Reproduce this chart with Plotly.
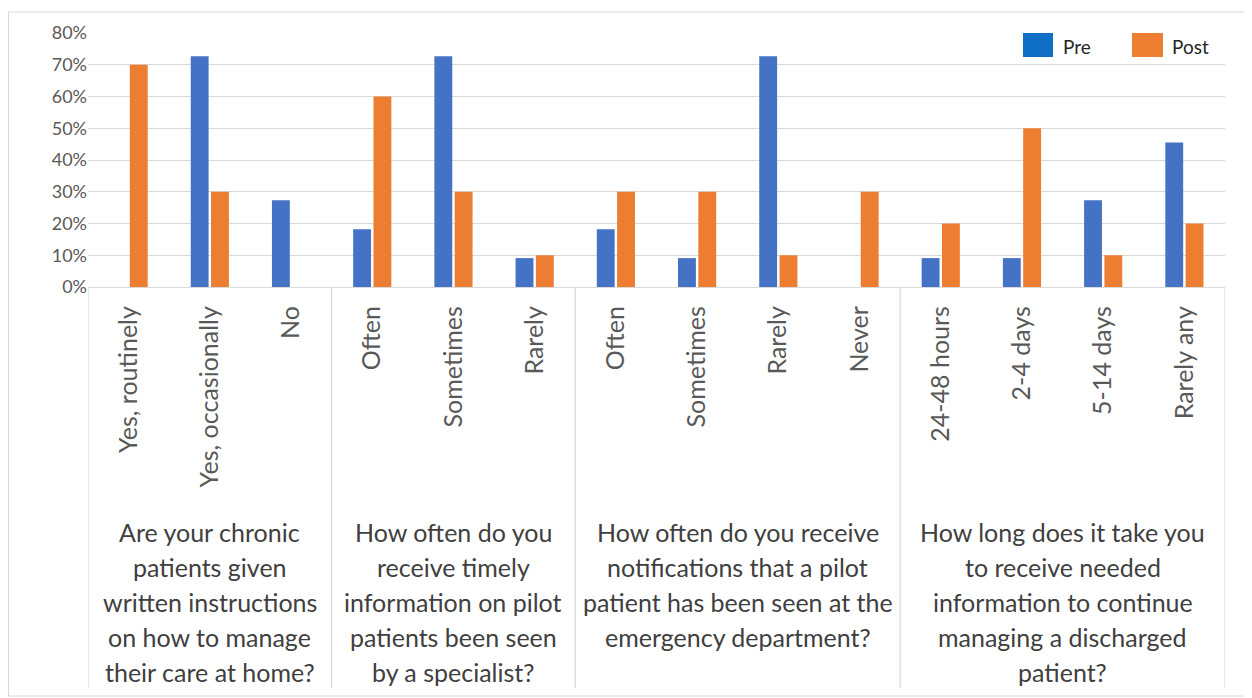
import plotly.graph_objects as go

categories = ["Yes, routinely", "Yes, occasionally", "No",
              "Often", "Sometimes", "Rarely",
              "Often", "Sometimes", "Rarely", "Never",
              "24-48 hours", "2-4 days", "5-14 days", "Rarely any"]
pre = [0.0, 0.727, 0.273,
       0.182, 0.727, 0.091,
       0.182, 0.091, 0.727, 0.0,
       0.091, 0.091, 0.273, 0.455]
post = [0.70, 0.30, 0.0,
        0.60, 0.30, 0.10,
        0.30, 0.30, 0.10, 0.30,
        0.20, 0.50, 0.10, 0.20]
groups = [
    ["Are your chronic", "patients given", "written instructions", "on how to manage", "their care at home?"],
    ["How often do you", "receive timely", "information on pilot", "patients been seen", "by a specialist?"],
    ["How often do you receive", "notifications that a pilot", "patient has been seen at the", "emergency department?"],
    ["How long does it take you", "to receive needed", "information to continue", "managing a discharged", "patient?"],
]
group_sizes = [3, 3, 4, 4]

OFF = 8  # page body margin
W, H = 1252 - OFF, 698 - OFF
# plot area in page pixels: x 88..1225, y 33..287
L, T = 88 - OFF, 33 - OFF
R = W - (1225 - OFF)
B = H - (287 - OFF)
PW, PH = W - L - R, H - T - B

def px_x(p):
    return (p - OFF - L) / PW

def px_y(p):
    return (T + PH - (p - OFF)) / PH

FONT = "Lato"
BLUE = "#4472C4"
ORANGE = "#ED7D31"
GRID = "#D9D9D9"

idx = list(range(len(categories)))
fig = go.Figure()
fig.add_trace(go.Bar(x=idx, y=pre, name="Pre", marker_color=BLUE,
                     marker_line_width=0, showlegend=False))
fig.add_trace(go.Bar(x=idx, y=post, name="Post", marker_color=ORANGE,
                     marker_line_width=0, showlegend=False))

shapes = []
annotations = []
start = 0
bounds = [-0.5]
for g, n in zip(groups, group_sizes):
    center = start + (n - 1) / 2
    for i, line in enumerate(g):
        annotations.append(dict(x=center, xref="x", y=px_y(532 + 35 * i), yref="paper",
                                text=line, showarrow=False, xanchor="center", yanchor="middle",
                                font=dict(family=FONT, size=25, color="#404040")))
    start += n
    bounds.append(start - 0.5)
for b in bounds:
    shapes.append(dict(type="line", xref="x", yref="paper", x0=b, x1=b, y0=0, y1=px_y(688),
                       line=dict(color=GRID, width=1.2)))

# legend (drawn)
for color, name, x0, x1, tx in [("#0F6FC6", "Pre", 1023, 1053, 1061), (ORANGE, "Post", 1132, 1163, 1170)]:
    shapes.append(dict(type="rect", xref="paper", yref="paper", x0=px_x(x0), x1=px_x(x1),
                       y0=px_y(57), y1=px_y(33), fillcolor=color, line_width=0))
    annotations.append(dict(x=px_x(tx), xref="paper", y=px_y(46), yref="paper", text=name,
                            showarrow=False, xanchor="left", yanchor="middle",
                            font=dict(family=FONT, size=19, color="#262626")))

# chart border
shapes.append(dict(type="rect", xref="paper", yref="paper", x0=px_x(OFF + 0.5), x1=px_x(1250),
                   y0=px_y(696), y1=px_y(12), line=dict(color=GRID, width=1.2),
                   fillcolor="rgba(0,0,0,0)", layer="below"))

fig.update_layout(
    width=W, height=H,
    margin=dict(l=L, r=R, t=T, b=B),
    paper_bgcolor="white", plot_bgcolor="white",
    barmode="group", bargap=0.5, bargroupgap=0.12,
    shapes=shapes, annotations=annotations,
    font=dict(family=FONT),
)
fig.update_xaxes(range=[-0.5, len(categories) - 0.5], tickmode="array", tickvals=idx,
                 ticktext=categories, tickangle=-90, showgrid=False, zeroline=False,
                 showline=True, linecolor=GRID, linewidth=1.2, ticks="", ticklabelstandoff=8,
                 tickfont=dict(family=FONT, size=25, color="#595959"), fixedrange=True)
fig.update_yaxes(range=[0, 0.8], dtick=0.1, tickformat=".0%", showgrid=True, gridcolor=GRID,
                 gridwidth=1.2, zeroline=False, showline=False, ticks="",
                 tickfont=dict(family=FONT, size=18, color="#595959"), fixedrange=True)

fig.write_html("out.html")
